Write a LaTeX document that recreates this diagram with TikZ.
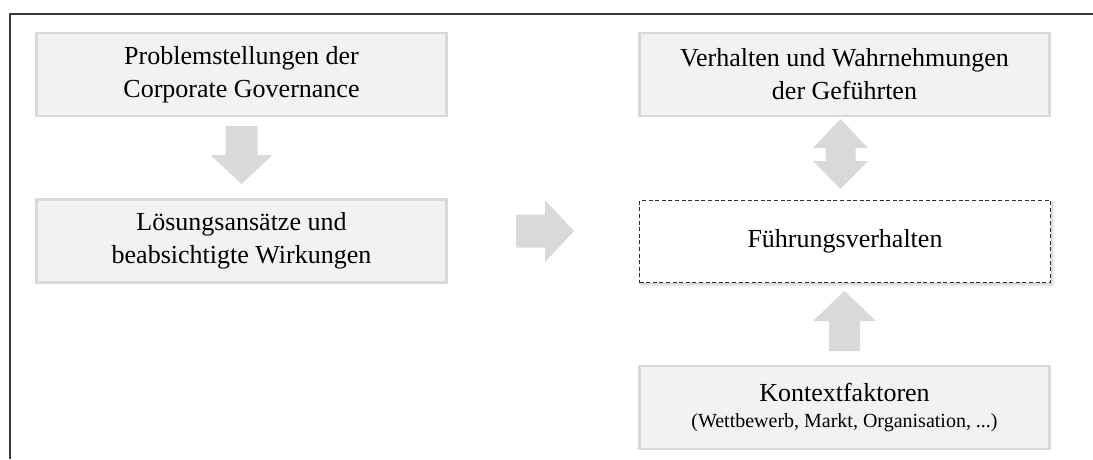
\documentclass[tikz,border=0pt]{standalone}
\usepackage{fontspec}
\setmainfont{Liberation Serif}
\usetikzlibrary{shadows.blur}
\definecolor{boxfill}{HTML}{F2F2F2}
\definecolor{boxline}{HTML}{D9D9D9}
\definecolor{arrowgray}{HTML}{D9D9D9}
\definecolor{framegray}{HTML}{3A3A3A}
\definecolor{dashgray}{HTML}{2E2E2E}
\tikzset{
  graybox/.style={draw=boxline, line width=2.6pt, fill=boxfill, rectangle,
    minimum width=410.5pt, minimum height=83pt, inner sep=0pt, align=center,
    font=\fontsize{26}{33}\selectfont},
  dashbox/.style={draw=dashgray, line width=1.2pt, dash pattern=on 4pt off 2.6pt,
    fill=white, rectangle, minimum width=411pt, minimum height=82pt, inner sep=0pt,
    align=center, font=\fontsize{26}{33}\selectfont,
    blur shadow={shadow xshift=1.5pt, shadow yshift=-2pt, shadow blur radius=3pt,
      shadow opacity=25}},
  blockarrow/.style={fill=arrowgray, draw=none},
  frameline/.style={draw=framegray, line width=1.3pt},
}
\begin{document}
\begin{tikzpicture}[x=1pt, y=-1pt]
  \useasboundingbox (0,0) rectangle (1093,459);
  % outer frame (top and left edges)
  \draw[frameline] (10,459) -- (10,14) -- (1093,14);

  % left column
  \node[graybox] (prob) at (241.5,74.5) {Problemstellungen der\\Corporate Governance};
  \node[graybox] (loes) at (241.5,241) {Lösungsansätze und\\beabsichtigte Wirkungen};

  % right column
  \node[graybox] (verh) at (844.5,74.5) {Verhalten und Wahrnehmungen\\der Geführten};
  \node[dashbox] (fuehr) at (845,241.5) {Führungsverhalten};
  \node[graybox, font=\fontsize{26}{26}\selectfont] (kont) at (844.5,407.5)
    {Kontextfaktoren\\{\fontsize{20}{24}\selectfont (Wettbewerb, Markt, Organisation, ...)}};

  % block arrows between the boxes
  \coordinate (a1) at (241.5,155);
  \coordinate (a2) at (545,231);
  \coordinate (a3) at (840.5,154);
  \coordinate (a4) at (844.5,321);

  % problems -> solutions (down)
  \fill[blockarrow, shift={(a1)}] (-16,-29) -- (16,-29) -- (16,0) -- (31,0)
    -- (0,29) -- (-31,0) -- (-16,0) -- cycle;
  % left column -> right column (right)
  \fill[blockarrow, shift={(a2)}] (-29,-16.5) -- (0,-16.5) -- (0,-31) -- (29,0)
    -- (0,31) -- (0,16.5) -- (-29,16.5) -- cycle;
  % behaviour <-> leadership (both ways)
  \fill[blockarrow, shift={(a3)}] (0,-35) -- (27.5,-6) -- (15,-6) -- (15,7)
    -- (27.5,7) -- (0,35) -- (-27.5,7) -- (-15,7) -- (-15,-6) -- (-27.5,-6) -- cycle;
  % context -> leadership (up)
  \fill[blockarrow, shift={(a4)}] (0,-30) -- (31.5,0) -- (15.5,0) -- (15.5,30)
    -- (-15.5,30) -- (-15.5,0) -- (-31.5,0) -- cycle;
\end{tikzpicture}
\end{document}
